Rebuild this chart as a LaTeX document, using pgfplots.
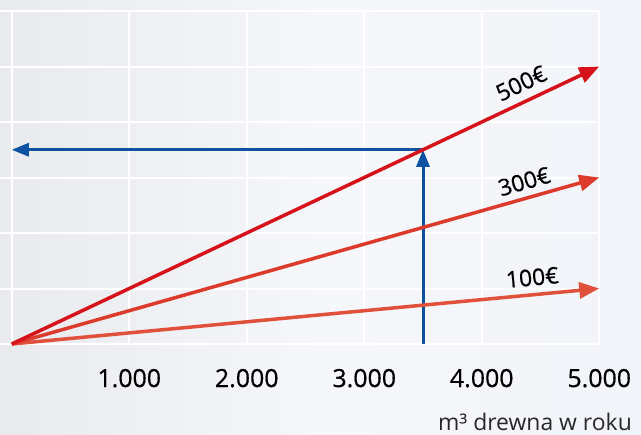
\documentclass[border=0pt]{standalone}
\usepackage{pgfplots}
\pgfplotsset{compat=1.18}
\usepackage{fontspec}
\setmainfont{Open Sans}
\newfontfamily\medfont{Open Sans}[FakeBold=0.6]
\usetikzlibrary{arrows.meta}
\definecolor{bgL}{RGB}{232,234,238}
\definecolor{bgM}{RGB}{246,247,250}
\definecolor{bgR}{RGB}{241,244,249}
\definecolor{rFive}{RGB}{214,18,26}
\definecolor{rThree}{RGB}{220,58,42}
\definecolor{rOne}{RGB}{225,80,58}
\definecolor{blueC}{RGB}{12,82,160}
\definecolor{txtG}{RGB}{40,40,40}
\begin{document}
\begin{tikzpicture}
\fill[left color=bgL, right color=bgR, middle color=bgM] (0bp,0bp) rectangle (641bp,435bp);
\useasboundingbox (0bp,0bp) rectangle (641bp,435bp);
\begin{axis}[
  at={(0bp,91bp)}, anchor=south west,
  scale only axis, width=599.25bp, height=333bp,
  xmin=-100, xmax=5000, ymin=0, ymax=6,
  xtick={0,1000,2000,3000,4000,5000},
  xticklabels={{},1.000,2.000,3.000,4.000,5.000},
  ytick={0,1,2,3,4,5,6}, yticklabels={},
  grid=major, major grid style={white, line width=2bp},
  axis line style={draw=none}, major tick length=0pt,
  clip=false,
  /pgf/number format/assume math mode=true,
  xticklabel style={anchor=base, yshift=-43bp, text=black, font=\medfont\fontsize{25}{30}\selectfont},
]
\addplot[blueC, line width=3bp, -{Triangle[length=17bp,width=13bp]}] coordinates {(3500,0) (3500,3.5)};
\addplot[blueC, line width=3bp, -{Triangle[length=17bp,width=13bp]}] coordinates {(3500,3.5) (0,3.5)};
\addplot[rOne, line width=3.5bp, -{Triangle[length=20bp,width=16bp]}] coordinates {(0,0) (5000,1)};
\addplot[rThree, line width=3.5bp, -{Triangle[length=20bp,width=16bp]}] coordinates {(0,0) (5000,3)};
\addplot[rFive, line width=3.5bp, -{Triangle[length=20bp,width=16bp]}] coordinates {(0,0) (5000,5)};
\node[rotate=25.4, inner sep=1pt, font=\medfont\fontsize{23}{28}\selectfont] at (axis cs:4336,4.70) {500€};
\node[rotate=15.9, inner sep=1pt, font=\medfont\fontsize{23}{28}\selectfont] at (axis cs:4362,2.93) {300€};
\node[rotate=5.4, inner sep=1pt, font=\medfont\fontsize{23}{28}\selectfont] at (axis cs:4430,1.20) {100€};
\end{axis}
\node[anchor=base east, text=txtG, font=\fontsize{23}{28}\selectfont, inner sep=0pt] at (632bp,5bp) {m³ drewna w roku};
\end{tikzpicture}
\end{document}
